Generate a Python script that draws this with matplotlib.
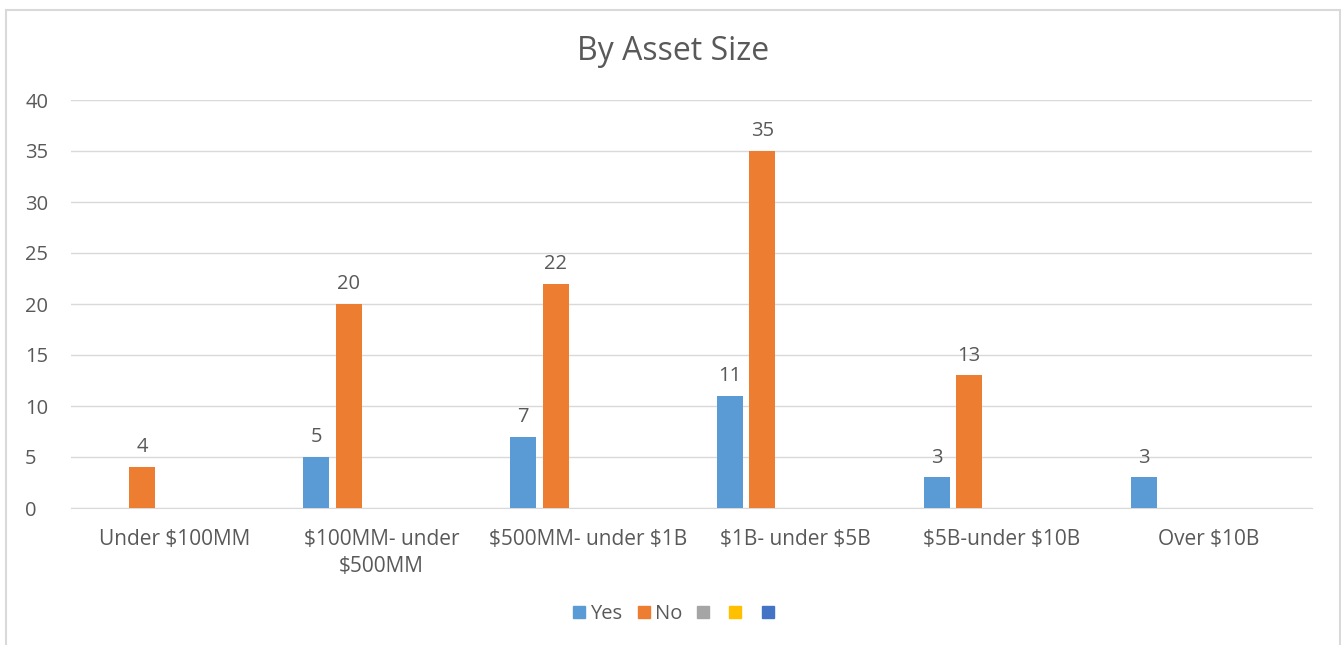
import matplotlib
matplotlib.use("Agg")
import matplotlib.pyplot as plt
import numpy as np
from matplotlib.patches import Rectangle

categories = ["Under \\$100MM", "\\$100MM- under\n\\$500MM", "\\$500MM- under \\$1B",
              "\\$1B- under \\$5B", "\\$5B-under \\$10B", "Over \\$10B"]
yes_vals = [None, 5, 7, 11, 3, 3]
no_vals = [4, 20, 22, 35, 13, None]
series_names = ["Yes", "No", "", "", ""]
series_colors = ["#5B9BD5", "#ED7D31", "#A5A5A5", "#FFC000", "#4472C4"]
yticks = [0, 5, 10, 15, 20, 25, 30, 35, 40]

plt.rcParams['font.family'] = ['Open Sans', 'DejaVu Sans']
txt = "#595959"
fs = 14.5

fig = plt.figure(figsize=(13.41, 6.45), dpi=100)
fig.patches.append(Rectangle((6/1341, -0.1), (1340-6)/1341, 1.1 - 10/645,
                             transform=fig.transFigure, fill=False,
                             edgecolor="#D9D9D9", linewidth=1.5))
ax = fig.add_axes([71/1341, 1-508/645, (1312-71)/1341, (508-100)/645])

x = np.arange(len(categories))
slot = 0.157
bw = 0.126
all_series = [yes_vals, no_vals, [None]*6, [None]*6, [None]*6]
handles = []
for i, (vals, color, name) in enumerate(zip(all_series, series_colors, series_names)):
    off = (i - 2) * slot
    xs = [xi + off for xi, v in zip(x, vals) if v is not None]
    vs = [v for v in vals if v is not None]
    ax.bar(xs, vs, width=bw, color=color, zorder=3)
    for xx, v in zip(xs, vs):
        ax.annotate(str(v), (xx, v), xytext=(0, 7), textcoords="offset points",
                    ha="center", va="bottom", fontsize=fs, color=txt)
    handles.append(Rectangle((0, 0), 1, 1, color=color))

ax.set_xlim(-0.5, len(categories) - 0.5)
ax.set_ylim(0, 40)
ax.set_yticks(yticks)
ax.set_xticks(x)
ax.set_xticklabels(categories, fontsize=15, color=txt, linespacing=1.4)
ax.tick_params(axis="y", labelsize=fs, labelcolor=txt, length=0, pad=33)
ax.tick_params(axis="x", length=0, pad=15)
for lab in ax.get_yticklabels():
    lab.set_horizontalalignment("left")
ax.grid(axis="y", color="#D9D9D9", linewidth=1, zorder=0)
for s in ["top", "right", "left"]:
    ax.spines[s].set_visible(False)
ax.spines["bottom"].set_color("#D9D9D9")

fig.text(673/1341, 1-51/645, "By Asset Size", ha="center", va="center",
         fontsize=23, color=txt)

fig.legend(handles, series_names, loc="center", bbox_to_anchor=(676/1341, 1-614/645),
           ncol=5, frameon=False, fontsize=fs, handlelength=0.6, handleheight=0.6,
           handletextpad=0.25, columnspacing=0.75, labelcolor=txt)

fig.savefig("out.png", dpi=100)
